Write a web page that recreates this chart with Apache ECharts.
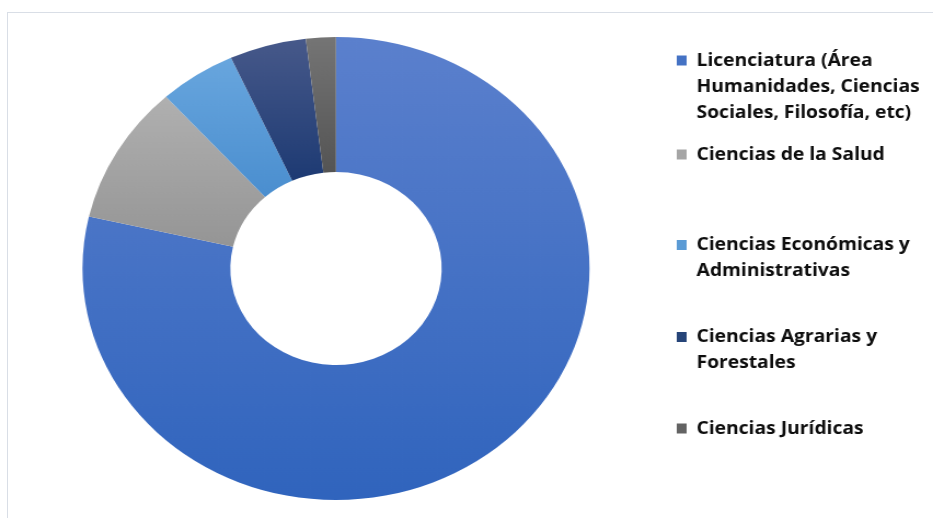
<!DOCTYPE html>
<html><head><meta charset="utf-8">
<script src="https://cdn.jsdelivr.net/npm/echarts@6/dist/echarts.min.js"></script>
<style>
html,body{margin:0;padding:0;background:#fff;width:933px;height:518px;overflow:hidden}
#frame{position:absolute;left:7px;top:12px;width:960px;height:540px;border-top:1px solid #d9dee6;border-left:1px solid #d9dee6}
#chart{position:absolute;left:0;top:0;width:852px;height:518px;transform:scaleX(1.0951);transform-origin:0 0}
</style></head><body>
<div id="frame"></div>
<div id="chart"></div>
<script>
const categories = [
  'Licenciatura (Área Humanidades, Ciencias Sociales, Filosofía, etc)',
  'Ciencias de la Salud',
  'Ciencias Económicas y Administrativas',
  'Ciencias Agrarias y Forestales',
  'Ciencias Jurídicas'
];
const legendText = [
  'Licenciatura (Área\nHumanidades, Ciencias\nSociales, Filosofía, etc)',
  'Ciencias de la Salud',
  'Ciencias Económicas y\nAdministrativas',
  'Ciencias Agrarias y\nForestales',
  'Ciencias Jurídicas'
];
const values = [78.6, 9.7, 4.9, 4.9, 1.9];

const gradTop = ['#5b80cd', '#b0b0b0', '#68a6de', '#47598a', '#757575'];
const gradBottom = ['#3064bd', '#959595', '#4a8ecf', '#1d3a73', '#545454'];
const markerColors = ['#4472c4', '#a5a5a5', '#5b9bd5', '#264478', '#636363'];

const LH = 26;
const firstLineY = [60.5, 154.5, 245, 337, 428.5];

const chart = echarts.init(document.getElementById('chart'), null, {renderer: 'canvas'});

const legends = categories.map((c, i) => {
  const n = legendText[i].split('\n').length;
  return {
    data: [c],
    orient: 'vertical',
    left: 618,
    top: firstLineY[i] - (2 * n - 1) * LH / 2,
    padding: 0,
    icon: 'rect',
    itemWidth: 9,
    itemHeight: 10,
    selectedMode: false,
    itemStyle: {color: markerColors[i]},
    formatter: () => '\n'.repeat(n - 1) + legendText[i],
    textStyle: {
      fontFamily: 'Open Sans',
      fontWeight: 'bold',
      fontSize: 17.6,
      lineHeight: LH,
      color: '#0d0d0d',
      padding: [0, 0, 0, 4]
    }
  };
});

chart.setOption({
  animation: false,
  legend: legends,
  series: [{
    type: 'pie',
    center: [306.8, 268.5],
    radius: [96.5, 231.5],
    startAngle: 90,
    clockwise: true,
    label: {show: false},
    labelLine: {show: false},
    emphasis: {disabled: true},
    data: categories.map((c, i) => ({
      name: c,
      value: values[i],
      itemStyle: {
        color: new echarts.graphic.LinearGradient(0, 0, 0, 1, [
          {offset: 0, color: gradTop[i]},
          {offset: 1, color: gradBottom[i]}
        ])
      }
    }))
  }]
});
</script>
</body></html>
